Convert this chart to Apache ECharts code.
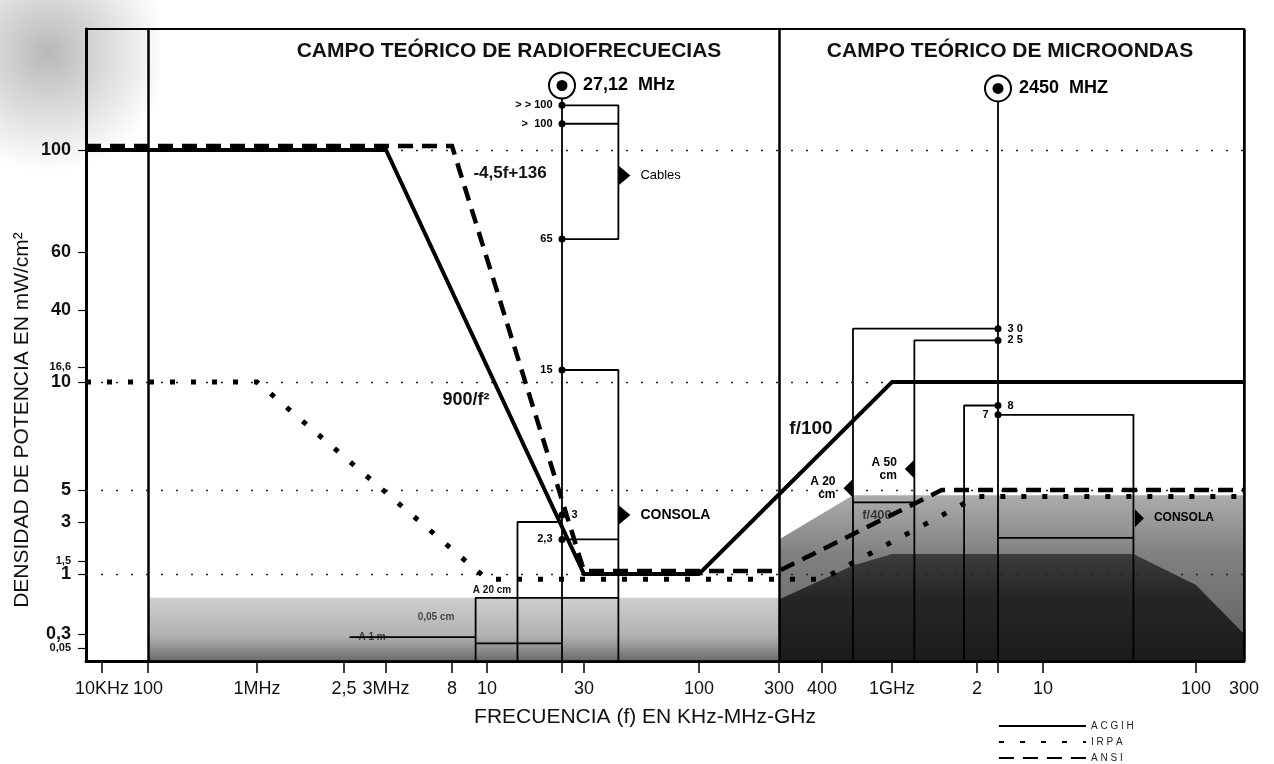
<!DOCTYPE html>
<html>
<head>
<meta charset="utf-8">
<title>Campo teórico de radiofrecuencias y microondas</title>
<script src="https://cdn.jsdelivr.net/npm/echarts@6.0.0/dist/echarts.min.js"></script>
<style>
  html, body { margin: 0; padding: 0; background: #fff; }
  #chart { width: 1274px; height: 764px; }
</style>
</head>
<body>
<div id="chart"></div>
<script>
const FONT = '"Liberation Sans", Arial, Helvetica, sans-serif';

// the printed frequency scale is not uniform: each stop (MHz) has its place along the axis
const freqStops = [0.0045, 0.01, 0.1, 1, 2.5, 3, 8, 10, 27.12, 30, 100, 300, 400, 1000, 2000, 2450, 10000, 100000, 300000];
const freqStopPos = [0, 16, 62, 171, 258, 300, 366, 401, 476, 498, 613, 693, 736, 806, 891, 912, 957, 1110, 1158];
const freqTickLabels = ['', '10KHz', '100', '1MHz', '2,5', '3MHz', '8', '10', '', '30', '100', '300', '400', '1GHz', '2', '', '10', '100', '300'];

// same for the density scale (mW/cm2)
const densStops = [0.01, 0.05, 0.3, 1, 1.5, 3, 5, 10, 16.6, 40, 60, 100, 183];
const densStopPos = [0, 13, 27, 87, 100, 139, 171, 279, 294, 351, 409, 511, 632];
const densTickLabels = ['', '0,05', '0,3', '1', '1,5', '3', '5', '10', '16,6', '40', '60', '100', ''];
const smallDensLabels = ['0,05', '1,5', '16,6'];

// exposure limits [MHz, mW/cm2]
const acgih = [[0.0045, 100], [3, 100], [30, 1], [100, 1], [1000, 10], [300000, 10]];
const irpa = [[0.0045, 10], [1, 10], [10, 0.9], [400, 0.9], [2000, 4.5], [300000, 4.5]];
const ansi = [[0.0045, 102], [8, 102], [30, 1.1], [300, 1.1], [1500, 5], [300000, 5]];

// measured sites
const rfFreq = 27.12;
const mwFreq = 2450;
const rfTop = 138;
const mwTop = 136;
const rfLevels = [125, 114, 64, 15, 3.35, 2.2];
const rfLevelLabels = ['> > 100', '>  100', '65', '15', '3', '2,3'];
const mwLevels = [30, 25, 8.6, 8.1];
const mwLevelLabels = ['3 0', '2 5', '8', '7'];

const rfBrackets = [
  [[27.12, 125], [43, 125], [43, 64], [27.12, 64]],
  [[27.12, 114], [43, 114]],
  [[27.12, 15], [43, 15], [43, 0.01]],
  [[27.12, 2.2], [43, 2.2]],
  [[15, 0.01], [15, 3], [27.12, 3]],
  [[9.3, 0.01], [9.3, 0.62], [43, 0.62]],
  [[9.3, 0.09], [27.12, 0.09]],
  [[2.56, 0.2], [9.3, 0.2]]
];
const mwBrackets = [
  [[2450, 30], [600, 30], [600, 0.01]],
  [[2450, 25], [1200, 25], [1200, 0.01]],
  [[2450, 8.6], [1800, 8.6], [1800, 0.01]],
  [[2450, 8.1], [39000, 8.1], [39000, 0.01]],
  [[600, 4.1], [1200, 4.1]],
  [[2450, 2.26], [39000, 2.26]]
];

// pointers: [MHz, mW/cm2], side, text
const pointerAt = [[43, 88], [43, 3.35], [600, 5.06], [1200, 5.72], [39000, 3.19]];
const pointerSide = ['right', 'right', 'left', 'left', 'right'];
const pointerText = ['Cables', 'CONSOLA', 'A 20\ncm', 'A 50\ncm', 'CONSOLA'];

// shaded (measured field) zones
const rfHaze = [[0.1, 0.62], [300, 0.62]];
const mwHaze = [[300, 2.2], [600, 4.6], [300000, 4.6]];
const mwCore = [[300, 0.6], [600, 1.3], [1000, 1.7], [39000, 1.7], [100000, 0.8], [300000, 0.3]];

const guideLevels = [100, 10, 5, 1];

function place(stops, pos, v) {
  if (v <= stops[0]) return pos[0];
  for (let i = 1; i < stops.length; i++) {
    if (v <= stops[i]) {
      const t = Math.log(v / stops[i - 1]) / Math.log(stops[i] / stops[i - 1]);
      return pos[i - 1] + t * (pos[i] - pos[i - 1]);
    }
  }
  return pos[pos.length - 1];
}
const px = f => place(freqStops, freqStopPos, f);
const py = v => place(densStops, densStopPos, v);
const pt = ([f, v]) => [px(f), py(v)];
const joinSegs = segs => segs.flatMap((s, i) => (i ? [[null, null]] : []).concat(s.map(pt)));

const xMax = freqStopPos[freqStopPos.length - 1];
const yMax = densStopPos[densStopPos.length - 1];
const xTickVals = freqStopPos.slice(1, -1);
const xLabelVals = freqStopPos.filter((p, i) => freqTickLabels[i]);
const yTickVals = densStopPos.slice(1, -1);
// the two lowest labels sit too close for one axis, so 0,05 goes on its own twin axis
const yLabelVals = yTickVals.slice(1);
const yLowLabelVals = yTickVals.slice(0, 1);

const grad = (stops) => new echarts.graphic.LinearGradient(0, 0, 0, 1,
  stops.map(([o, c]) => ({ offset: o, color: c })));

const lineSeries = (name, data, style, z) => ({
  name, type: 'line', data: data.map(pt), symbol: 'none', z,
  itemStyle: { color: 'rgba(0,0,0,0)' },
  lineStyle: Object.assign({ color: '#000', cap: 'butt', join: 'miter' }, style),
  silent: true
});

const pointerPath = {
  right: 'path://M0,0L12,10L0,20Z',
  left: 'path://M12,0L0,10L12,20Z'
};

const txt = (text, x, y, size, weight, extra) => ({
  type: 'text', x, y, silent: true,
  style: Object.assign({ text, fill: '#111', font: `${weight} ${size}px ${FONT}`, align: 'center', verticalAlign: 'middle' }, extra || {})
});

const densLabel = v => {
  const l = densTickLabels[densStopPos.indexOf(v)] || '';
  return smallDensLabels.includes(l) ? `{s|${l}}` : `{b|${l}}`;
};
const densRich = {
  b: { fontSize: 18, fontWeight: 'bold', fontFamily: FONT, color: '#111' },
  s: { fontSize: 11, fontWeight: 'bold', fontFamily: FONT, color: '#111' }
};

const myChart = echarts.init(document.getElementById('chart'));

const option = {
  animation: false,
  backgroundColor: '#fff',
  grid: { left: 86, right: 30, top: 29, bottom: 103, show: true, borderColor: '#000', borderWidth: 2 },
  xAxis: {
    type: 'value', min: 0, max: xMax,
    splitLine: { show: false },
    axisLine: { lineStyle: { color: '#000', width: 3 } },
    axisTick: { customValues: xTickVals, length: 12, lineStyle: { color: '#000', width: 1.5 } },
    axisLabel: {
      customValues: xLabelVals, margin: 19, fontSize: 18, color: '#111', fontFamily: FONT,
      hideOverlap: false, showMinLabel: true, showMaxLabel: true,
      formatter: v => freqTickLabels[freqStopPos.indexOf(v)] || ''
    }
  },
  yAxis: [
    {
      type: 'value', min: 0, max: yMax,
      splitLine: { show: false },
      axisLine: { show: true, lineStyle: { color: '#000', width: 3 } },
      axisTick: { customValues: yTickVals, length: 8, lineStyle: { color: '#000', width: 1.2 } },
      axisLabel: {
        customValues: yLabelVals, margin: 15, color: '#111', fontFamily: FONT,
        hideOverlap: false, showMinLabel: true, showMaxLabel: true,
        formatter: densLabel, rich: densRich
      }
    },
    {
      type: 'value', min: 0, max: yMax, position: 'left',
      splitLine: { show: false }, axisLine: { show: false }, axisTick: { show: false },
      axisLabel: {
        customValues: yLowLabelVals, margin: 15, color: '#111', fontFamily: FONT,
        showMinLabel: true, formatter: densLabel, rich: densRich
      }
    }
  ],
  legend: {
    data: ['ACGIH', 'IRPA', 'ANSI'],
    orient: 'vertical', left: 998, top: 721,
    itemWidth: 87, itemHeight: 8, itemGap: 6, padding: 0,
    formatter: n => n.split('').join(' '),
    textStyle: { fontSize: 10, color: '#222', fontFamily: FONT }
  },
  graphic: [
    {
      type: 'rect', z: -1, silent: true,
      shape: { x: 0, y: 0, width: 160, height: 175 },
      style: { fill: new echarts.graphic.RadialGradient(0.3, 0.3, 0.75, [
        { offset: 0, color: 'rgba(0,0,0,0.28)' }, { offset: 1, color: 'rgba(0,0,0,0)' }]) }
    },
    txt('CAMPO TEÓRICO DE RADIOFRECUECIAS', 509, 51, 21, 'bold'),
    txt('CAMPO TEÓRICO DE MICROONDAS', 1010, 51, 21, 'bold'),
    txt('-4,5f+136', 510, 173, 17, 'bold'),
    txt('900/f²', 466, 400, 18, 'bold'),
    txt('f/100', 811, 429, 19, 'bold'),
    txt('f/400', 877, 515, 13, 'bold'),
    txt('A 20 cm', 492, 590, 10, 'bold'),
    txt('0,05 cm', 436, 617, 10, 'bold'),
    txt('A 1 m', 372, 637, 10, 'bold'),
    txt('FRECUENCIA (f) EN KHz-MHz-GHz', 645, 717, 21, 'normal'),
    Object.assign(txt('DENSIDAD DE POTENCIA EN mW/cm²', 22, 420, 21, 'normal'), { rotation: Math.PI / 2 })
  ],
  series: [
    {
      name: 'rfHaze', type: 'line', data: rfHaze.map(pt), symbol: 'none', z: 1, silent: true,
      lineStyle: { width: 0 },
      areaStyle: { color: grad([[0, 'rgba(140,140,140,0.6)'], [0.6, 'rgba(100,100,100,0.72)'], [1, 'rgba(30,30,30,0.95)']]) },
      markLine: {
        silent: true, symbol: 'none', label: { show: false },
        lineStyle: { color: '#222', width: 1.3, type: [2, 13] },
        data: guideLevels.map(v => ({ yAxis: py(v) }))
      }
    },
    {
      name: 'mwHaze', type: 'line', data: mwHaze.map(pt), symbol: 'none', z: 1, silent: true,
      lineStyle: { width: 0 },
      areaStyle: { color: grad([[0, 'rgba(95,95,95,0.75)'], [0.35, 'rgba(55,55,55,0.9)'], [1, 'rgba(15,15,15,0.97)']]) }
    },
    {
      name: 'mwCore', type: 'line', data: mwCore.map(pt), symbol: 'none', z: 1, silent: true,
      lineStyle: { width: 0 },
      areaStyle: { color: grad([[0, 'rgba(15,15,15,0.85)'], [0.4, '#050505'], [1, '#000']]) },
      markLine: {
        silent: true, symbol: 'none', label: { show: false },
        lineStyle: { color: '#000', width: 2.5, type: 'solid' },
        data: [{ xAxis: px(0.1) }, { xAxis: px(300) }, { xAxis: xMax }]
      }
    },
    {
      name: 'brackets', type: 'line', symbol: 'none', z: 4, silent: true,
      data: joinSegs([[[rfFreq, rfTop], [rfFreq, 0.01]], [[mwFreq, mwTop], [mwFreq, 0.01]]]
        .concat(rfBrackets, mwBrackets)),
      lineStyle: { color: '#000', width: 1.8 }
    },
    lineSeries('ACGIH', acgih, { width: 4 }, 6),
    lineSeries('IRPA', irpa, { width: 5, type: [5, 16] }, 6),
    lineSeries('ANSI', ansi, { width: 4.5, type: [15, 9] }, 6),
    {
      name: 'levels', type: 'scatter', z: 7, silent: true,
      symbolSize: 7, itemStyle: { color: '#000', opacity: 1 },
      label: { show: true, fontSize: 11, fontWeight: 'bold', fontFamily: FONT, color: '#000', distance: 6 },
      data: rfLevels.map((v, i) => ({
        value: pt([rfFreq, v]),
        label: { formatter: rfLevelLabels[i], position: i === 4 ? 'right' : 'left' }
      })).concat(mwLevels.map((v, i) => ({
        value: pt([mwFreq, v]),
        label: { formatter: mwLevelLabels[i], position: i === 3 ? 'left' : 'right' }
      })))
    },
    {
      name: 'sites', type: 'scatter', z: 7, silent: true,
      symbol: 'emptyCircle', symbolSize: 26,
      itemStyle: { color: '#000', borderColor: '#000', borderWidth: 2.2, opacity: 1 },
      label: { show: true, position: 'right', distance: 7, fontSize: 18, fontWeight: 'bold', fontFamily: FONT, color: '#000' },
      data: [
        { value: pt([rfFreq, rfTop]), label: { formatter: '27,12  MHz' } },
        { value: pt([mwFreq, mwTop]), label: { formatter: '2450  MHZ' } }
      ]
    },
    {
      name: 'siteDots', type: 'scatter', z: 8, silent: true,
      symbolSize: 11, itemStyle: { color: '#000', opacity: 1 },
      data: [pt([rfFreq, rfTop]), pt([mwFreq, mwTop])]
    },
    {
      name: 'pointers', type: 'scatter', z: 8, silent: true,
      itemStyle: { color: '#000', opacity: 1 },
      data: pointerAt.map((p, i) => {
        const right = pointerSide[i] === 'right';
        const big = i < 2;
        return {
          value: pt(p),
          symbol: pointerPath[pointerSide[i]],
          symbolSize: big ? [12, 20] : [9, 18],
          symbolOffset: [right ? 6 : -5, 0],
          label: {
            show: true, formatter: pointerText[i], position: right ? 'right' : 'left',
            distance: right ? 10 : 8, align: right ? 'left' : 'right',
            fontFamily: FONT, color: '#000', lineHeight: 13,
            fontSize: i === 0 ? 13 : (big ? 14 : 12),
            fontWeight: i === 0 ? 'normal' : 'bold'
          }
        };
      })
    }
  ]
};

myChart.setOption(option);
</script>
</body>
</html>
